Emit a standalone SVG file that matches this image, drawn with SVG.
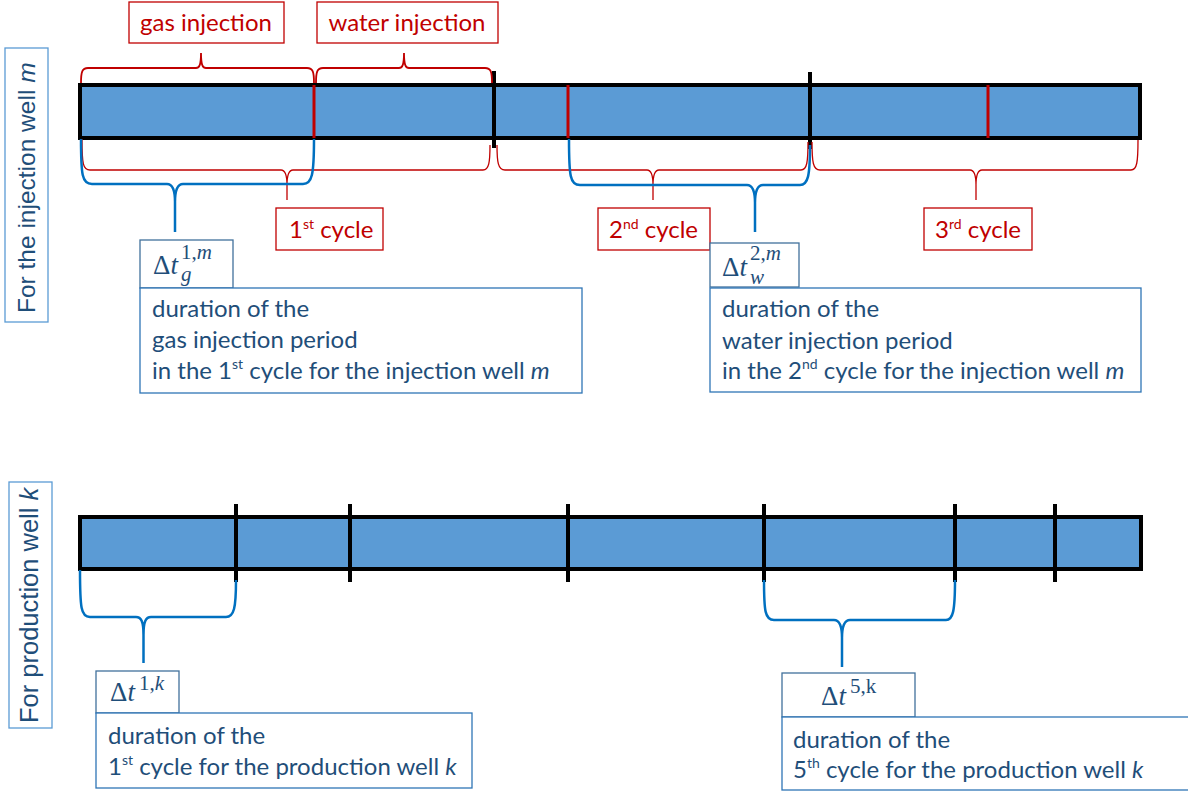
<svg xmlns="http://www.w3.org/2000/svg" width="1188" height="793" viewBox="0 0 1188 793">
<style>
.bar{fill:#5B9BD5;stroke:#000;stroke-width:4}
.tk{stroke:#000;stroke-width:4}
.rtk{stroke:#C00000;stroke-width:3}
.rb{fill:none;stroke:#C00000;stroke-width:1.3}
.rbt{fill:none;stroke:#C00000;stroke-width:1.8}
.bb{fill:none;stroke:#0070C0;stroke-width:2.5}
.rbox{fill:#fff;stroke:#C00000;stroke-width:1.3}
.rt{font-family:Lato,"Liberation Sans",sans-serif;font-size:24px;fill:#C00000}
.mbox{fill:#fff;stroke:#41719C;stroke-width:1.3}
.dbox{fill:#fff;stroke:#2E75B6;stroke-width:1.3}
.dt{font-family:Lato,"Liberation Sans",sans-serif;font-size:24px;fill:#1F4E79}
.mt{font-family:"Liberation Serif","DejaVu Serif",serif;font-size:27px;fill:#1F4E79}
.ms{font-size:21px}
.vbox{fill:#fff;stroke:#5B9BD5;stroke-width:1.3}
.vt{font-family:"Liberation Sans",Arial,sans-serif;font-size:24.5px;fill:#1F4E79}
</style>

<g id="label-injection">
<rect class="vbox" x="5" y="48" width="43" height="274"/>
<text class="vt" transform="translate(35,313) rotate(-90)">For the injection well <tspan font-style="italic">m</tspan></text>
</g>
<g id="label-production">
<rect class="vbox" x="9" y="482" width="43" height="246"/>
<text class="vt" style="font-size:25.5px" transform="translate(38,723) rotate(-90)">For production well <tspan font-style="italic">k</tspan></text>
</g>

<g id="bar-injection">
<rect class="bar" x="80" y="85" width="1060" height="53"/>
<line class="rtk" x1="314" y1="85" x2="314" y2="138"/>
<line class="rtk" x1="568" y1="85" x2="568" y2="138"/>
<line class="rtk" x1="988" y1="85" x2="988" y2="138"/>
<line class="tk" x1="494" y1="71" x2="494" y2="148"/>
<line class="tk" x1="810" y1="72" x2="810" y2="149"/>
</g>

<g id="bar-production">
<rect class="bar" x="80" y="517" width="1061" height="52"/>
<line class="tk" x1="236" y1="504" x2="236" y2="582"/>
<line class="tk" x1="350" y1="504" x2="350" y2="582"/>
<line class="tk" x1="568" y1="504" x2="568" y2="582"/>
<line class="tk" x1="764" y1="504" x2="764" y2="582"/>
<line class="tk" x1="955" y1="504" x2="955" y2="582"/>
<line class="tk" x1="1055" y1="504" x2="1055" y2="582"/>
</g>

<g id="connectors">
<path class="rbt" d="M81,83 C81,72 82,68 88,68 L196,68 C199,68 201,66 201,53 C201,66 203,68 206,68 L307,68 C313,68 314,72 314,83"/>
<path class="rbt" d="M316,83 C316,72 317,68 323,68 L399,68 C402,68 404,66 404,53 C404,66 406,68 409,68 L485,68 C491,68 492,72 492,83"/>
<path class="rb" d="M82,139 C82,164 83,170 90,170 L281,170 C285,170 287,174 287,185 L287,200 M287,185 C287,174 289,170 293,170 L483,170 C489,170 490,162 490,145"/>
<path class="rb" d="M497,145 C497,162 498,170 505,170 L647,170 C651,170 653,174 653,185 L653,200 M653,185 C653,174 655,170 659,170 L801,170 C807,170 808,162 808,142"/>
<path class="rb" d="M812,142 C812,162 813,170 820,170 L970,170 C974,170 976,174 976,185 L976,200 M976,185 C976,174 978,170 982,170 L1131,170 C1137,170 1138,162 1138,140"/>
<path class="bb" d="M81,139 C81,175 82,184 92,184 L167,184 C172,184 175,188 175,202 L175,232 M175,202 C175,188 178,184 183,184 L303,184 C312,184 314,175 314,139"/>
<path class="bb" d="M569,139 C569,176 570,185 580,185 L747,185 C752,185 755,189 755,203 L755,232 M755,203 C755,189 758,185 763,185 L800,185 C808,185 810,176 810,145"/>
<path class="bb" d="M80,570 C80,608 81,617 90,617 L136,617 C141,617 143.5,621 143.5,635 L143.5,663 M143.5,635 C143.5,621 146,617 151,617 L226,617 C234,617 236,608 236,580"/>
<path class="bb" d="M764,580 C764,611 765,620 774,620 L834,620 C839,620 842,624 842,638 L842,667 M842,638 C842,624 845,620 850,620 L946,620 C953,620 955,611 955,580"/>
</g>

<g id="gas-injection">
<rect class="rbox" x="129" y="2" width="155" height="41"/>
<text class="rt" x="206" y="31" text-anchor="middle">gas injection</text>
</g>
<g id="water-injection">
<rect class="rbox" x="317" y="2" width="181" height="41"/>
<text class="rt" x="407" y="31" text-anchor="middle">water injection</text>
</g>

<g id="cycle-1">
<rect class="rbox" x="276" y="208" width="107" height="42"/>
<text class="rt" x="289" y="238">1<tspan font-size="14" dy="-9">st</tspan><tspan dy="9"> cycle</tspan></text>
</g>
<g id="cycle-2">
<rect class="rbox" x="598" y="208" width="112" height="42"/>
<text class="rt" x="609" y="238">2<tspan font-size="14" dy="-9">nd</tspan><tspan dy="9"> cycle</tspan></text>
</g>
<g id="cycle-3">
<rect class="rbox" x="924" y="208" width="108" height="42"/>
<text class="rt" x="935" y="238">3<tspan font-size="14" dy="-9">rd</tspan><tspan dy="9"> cycle</tspan></text>
</g>

<g id="dt-g-1m">
<rect class="mbox" x="140" y="240" width="93" height="48"/>
<text class="mt" x="153" y="274">Δ<tspan font-style="italic">t</tspan><tspan class="ms" x="181" y="259">1,<tspan font-style="italic">m</tspan></tspan><tspan class="ms" font-style="italic" x="181" y="281">g</tspan></text>
</g>
<g id="desc-g-1m">
<rect class="dbox" x="140" y="288" width="442" height="105"/>
<text class="dt" x="152" y="317">duration of the</text>
<text class="dt" x="152" y="348">gas injection period</text>
<text class="dt" x="152" y="379">in the 1<tspan font-size="14" dy="-10">st</tspan><tspan dy="10"> cycle for the injection well </tspan><tspan font-style="italic">m</tspan></text>
</g>

<g id="dt-w-2m">
<rect class="mbox" x="710" y="243" width="89" height="44"/>
<text class="mt" x="722" y="276">Δ<tspan font-style="italic">t</tspan><tspan class="ms" x="750" y="259.5">2,<tspan font-style="italic">m</tspan></tspan><tspan class="ms" font-style="italic" x="750" y="283.5">w</tspan></text>
</g>
<g id="desc-w-2m">
<rect class="dbox" x="710" y="288" width="431" height="104"/>
<text class="dt" x="722" y="317">duration of the</text>
<text class="dt" x="722" y="349">water injection period</text>
<text class="dt" x="722" y="379">in the 2<tspan font-size="14" dy="-10">nd</tspan><tspan dy="10"> cycle for the injection well </tspan><tspan font-style="italic">m</tspan></text>
</g>

<g id="dt-1k">
<rect class="mbox" x="96" y="671" width="83" height="42"/>
<text class="mt" x="110" y="701">Δ<tspan font-style="italic">t</tspan><tspan class="ms" x="139" y="690">1,<tspan font-style="italic">k</tspan></tspan></text>
</g>
<g id="desc-1k">
<rect class="dbox" x="96" y="713" width="376" height="75"/>
<text class="dt" x="108" y="744">duration of the</text>
<text class="dt" x="108" y="775">1<tspan font-size="14" dy="-10">st</tspan><tspan dy="10"> cycle for the production well </tspan><tspan font-style="italic">k</tspan></text>
</g>

<g id="dt-5k">
<rect class="mbox" x="782" y="673" width="133" height="44"/>
<text class="mt" x="821" y="705">Δ<tspan font-style="italic">t</tspan><tspan class="ms" x="850" y="693">5,k</tspan></text>
</g>
<g id="desc-5k">
<rect class="dbox" x="782" y="717" width="420" height="73"/>
<text class="dt" x="793" y="748">duration of the</text>
<text class="dt" x="793" y="778">5<tspan font-size="14" dy="-10">th</tspan><tspan dy="10"> cycle for the production well </tspan><tspan font-style="italic">k</tspan></text>
</g>
</svg>
